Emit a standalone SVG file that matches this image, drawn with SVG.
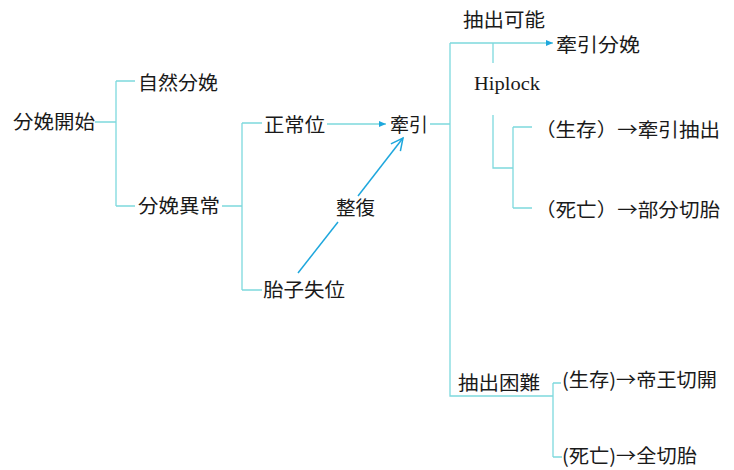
<svg xmlns="http://www.w3.org/2000/svg" width="734" height="470" viewBox="0 0 734 470">
<style>
.t{font-family:"Noto Sans CJK JP","Noto Sans CJK SC",sans-serif;font-size:19px;fill:#1a1a1a}
.l{font-family:"Liberation Serif",serif;font-size:19px;fill:#1a1a1a}
.c{stroke:#7dd9dd;stroke-width:1.3;fill:none}
.a{stroke:#1ea7dd;stroke-width:1.5;fill:none}
</style>
<defs>
<marker id="tri" markerWidth="8" markerHeight="8" refX="7" refY="4" orient="auto" markerUnits="userSpaceOnUse">
<path d="M0,1 L7,4 L0,7 Z" fill="#1ea7dd"/>
</marker>
<marker id="vee" markerWidth="16" markerHeight="16" refX="13" refY="8" orient="auto" markerUnits="userSpaceOnUse">
<path d="M1,2 L13,8 L1,14" fill="none" stroke="#1ea7dd" stroke-width="1.5"/>
</marker>
</defs>
<rect width="734" height="470" fill="#ffffff"/>
<g id="connectors">
<path class="c" d="M95,122 H116 M116,81 V206 M116,81 H135 M116,206 H135"/>
<path class="c" d="M222,206 H242 M242,123 V290 M242,123 H262 M242,290 H262"/>
<path class="c" d="M327,124 H386" marker-end="url(#tri)"/>
<path class="c" d="M430,124 H450 M450,43 V396 H553"/>
<path class="c" d="M450,43 H553" marker-end="url(#tri)"/>
<path class="c" d="M493,43 V63 M493,115 V168 H513 M513,127 V208 M513,127 H532 M513,208 H532"/>
<path class="c" d="M553,383 V457 M553,383 H561 M553,457 H562"/>
<path class="a" d="M298,273 L338,222"/>
<path class="a" d="M358,196 L403,138" marker-end="url(#vee)"/>
</g>
<g id="n1"><text class="t" x="13" y="129" textLength="82" lengthAdjust="spacingAndGlyphs">分娩開始</text></g>
<g id="n2"><text class="t" x="138" y="90" textLength="80" lengthAdjust="spacingAndGlyphs">自然分娩</text></g>
<g id="n3"><text class="t" x="138" y="213" textLength="82" lengthAdjust="spacingAndGlyphs">分娩異常</text></g>
<g id="n4"><text class="t" x="264" y="132" textLength="61" lengthAdjust="spacingAndGlyphs">正常位</text></g>
<g id="n5"><text class="t" x="390" y="132" textLength="38" lengthAdjust="spacingAndGlyphs">牽引</text></g>
<g id="n6"><text class="t" x="336" y="215" textLength="39" lengthAdjust="spacingAndGlyphs">整復</text></g>
<g id="n7"><text class="t" x="263" y="297" textLength="82" lengthAdjust="spacingAndGlyphs">胎子失位</text></g>
<g id="n8"><text class="t" x="463" y="27" textLength="82" lengthAdjust="spacingAndGlyphs">抽出可能</text></g>
<g id="n9"><text class="t" x="556" y="52" textLength="84" lengthAdjust="spacingAndGlyphs">牽引分娩</text></g>
<g id="n10"><text class="l" x="474" y="90" textLength="66" lengthAdjust="spacingAndGlyphs">Hiplock</text></g>
<g id="n11"><text class="t" x="535" y="137" textLength="185" lengthAdjust="spacingAndGlyphs">（生存）→牽引抽出</text></g>
<g id="n12"><text class="t" x="535" y="217" textLength="185" lengthAdjust="spacingAndGlyphs">（死亡）→部分切胎</text></g>
<g id="n13"><text class="t" x="458" y="390" textLength="82" lengthAdjust="spacingAndGlyphs">抽出困難</text></g>
<g id="n14"><text class="t" x="562" y="387" textLength="155" lengthAdjust="spacingAndGlyphs">(生存)→帝王切開</text></g>
<g id="n15"><text class="t" x="562" y="463" textLength="135" lengthAdjust="spacingAndGlyphs">(死亡)→全切胎</text></g>
</svg>
